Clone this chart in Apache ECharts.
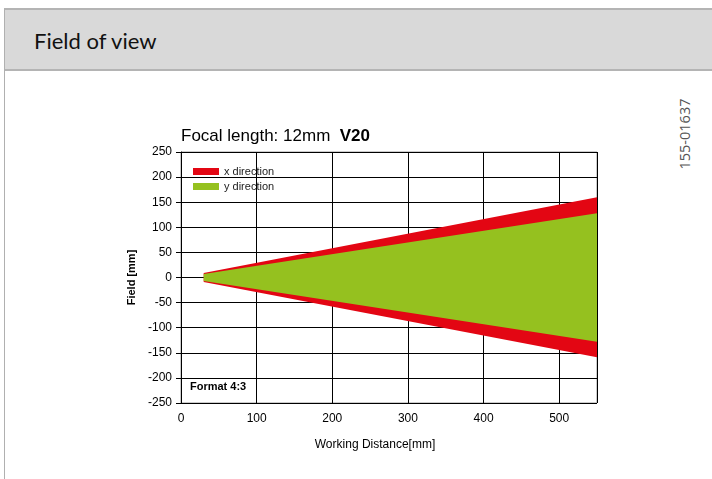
<!DOCTYPE html>
<html><head><meta charset="utf-8">
<script src="https://cdn.jsdelivr.net/npm/echarts@6/dist/echarts.min.js"></script>
<style>
html,body{margin:0;padding:0;background:#fff;width:712px;height:479px;overflow:hidden;}
#frame{position:absolute;left:4px;top:8px;right:0;bottom:0;border-left:1px solid #b0b0b0;border-top:2px solid #b4b4b4;}
#head{position:absolute;left:5px;top:10px;right:0;height:59px;background:#d9d9d9;border-bottom:2px solid #b4b4b4;}
#head span{position:absolute;left:29px;top:17px;font-family:Lato,"Open Sans",sans-serif;font-size:22px;color:#111;}
#side{position:absolute;left:645px;top:125px;transform:rotate(-90deg);transform-origin:center;font-family:"Open Sans",sans-serif;font-size:14.5px;color:#555;width:80px;text-align:center;line-height:18px;}
#c{position:absolute;left:0;top:0;width:712px;height:479px;}
</style></head><body>
<div id="frame"></div>
<div id="head"><span>Field of view</span></div>
<div id="side">155-01637</div>
<div id="c"></div>
<script>
var distance = [30, 550];
var xUpper = [9, 160];
var xLower = [-9, -159];
var yUpper = [7, 128];
var yLower = [-7, -128];
var xTicks = [0, 100, 200, 300, 400, 500];

var RED = '#e30613', GREEN = '#95c11f';
function band(name, upper, lower, color){
  var rows = distance.map(function(d,i){ return [d, lower[i], upper[i]]; });
  return {name:name, type:'custom', data:rows, encode:{x:0, y:[1,2]},
    itemStyle:{color:color}, silent:true, animation:false, clip:true,
    renderItem:function(params, api){
      if (params.dataIndex !== 0) return null;
      var top = rows.map(function(r){ return api.coord([r[0], r[2]]); });
      var bot = rows.slice().reverse().map(function(r){ return api.coord([r[0], r[1]]); });
      return {type:'polygon', shape:{points: top.concat(bot)}, style:{fill:color}};
    }};
}
var chart = echarts.init(document.getElementById('c'), null, {renderer:'canvas'});
chart.setOption({
  backgroundColor:'transparent',
  animation:false,
  textStyle:{fontFamily:'Liberation Sans, Arial, sans-serif'},
  title:{text:'{a|Focal length: 12mm  }{b|V20}', left:176, top:123,
    textStyle:{fontWeight:'normal', rich:{a:{fontSize:17, fontWeight:'normal', color:'#000', fontFamily:'Liberation Sans'}, b:{fontSize:17, fontWeight:'bold', color:'#000', fontFamily:'Liberation Sans'}}}},
  legend:{data:['x direction','y direction'], orient:'vertical', left:193, top:166, padding:0,
    itemWidth:26, itemHeight:7, itemGap:4, itemTextGap:4, icon:'rect',
    textStyle:{fontSize:11, color:'#222', fontFamily:'Liberation Sans'}},
  grid:{left:181, top:152, width:416, height:251, show:true, borderColor:'#999', borderWidth:1},
  xAxis:{type:'value', min:0, max:550, interval:100,
    name:'Working Distance[mm]', nameLocation:'middle', nameGap:36,
    nameTextStyle:{fontSize:12, color:'#000', padding:[0,28,0,0], fontFamily:'Liberation Sans'},
    axisLine:{lineStyle:{color:'#000', width:1}},
    axisTick:{show:false},
    axisLabel:{fontSize:12, color:'#000', margin:10, showMaxLabel:false,
      formatter:function(v){ return xTicks.indexOf(v)>=0 ? String(v) : ''; }},
    splitLine:{lineStyle:{color:'#000', width:1}}},
  yAxis:{type:'value', min:-250, max:250, interval:50,
    name:'Field [mm]', nameLocation:'middle', nameGap:36,
    nameTextStyle:{fontSize:11, fontWeight:'bold', color:'#000', fontFamily:'Liberation Sans'},
    axisLine:{show:true, lineStyle:{color:'#000', width:1}},
    axisTick:{show:true, inside:false, length:5, lineStyle:{color:'#000'}},
    axisLabel:{fontSize:12, color:'#000', margin:9},
    splitLine:{lineStyle:{color:'#000', width:1}}},
  graphic:[{type:'text', left:190, top:381, style:{text:'Format 4:3', font:'bold 11px "Liberation Sans"', fill:'#000'}, z:100}],
  series:[band('x direction', xUpper, xLower, RED),
          band('y direction', yUpper, yLower, GREEN)]
});
</script>
</body></html>
